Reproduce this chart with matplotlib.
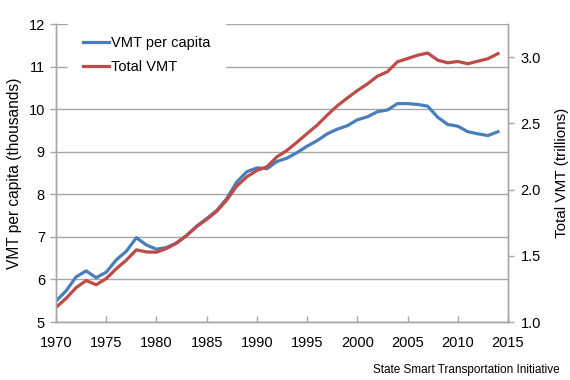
import matplotlib
matplotlib.use("Agg")
import matplotlib.pyplot as plt

plt.rcParams['font.family'] = ['Liberation Sans', 'DejaVu Sans']

years = list(range(1970, 2015))
vmt_per_capita = [5.49, 5.73, 6.06, 6.20, 6.04, 6.17, 6.46, 6.66, 6.98, 6.81,
                  6.71, 6.75, 6.86, 7.03, 7.25, 7.43, 7.62, 7.90, 8.29, 8.53,
                  8.62, 8.60, 8.77, 8.85, 8.98, 9.13, 9.26, 9.42, 9.53, 9.61,
                  9.75, 9.82, 9.94, 9.98, 10.13, 10.13, 10.11, 10.07, 9.81, 9.64,
                  9.60, 9.47, 9.42, 9.38, 9.47]
total_vmt = [1.110, 1.178, 1.259, 1.313, 1.281, 1.328, 1.402, 1.467, 1.545, 1.529,
             1.527, 1.555, 1.595, 1.653, 1.720, 1.775, 1.835, 1.921, 2.026, 2.096,
             2.144, 2.172, 2.247, 2.296, 2.358, 2.423, 2.486, 2.562, 2.632, 2.691,
             2.747, 2.797, 2.856, 2.890, 2.965, 2.989, 3.014, 3.031, 2.977, 2.957,
             2.967, 2.950, 2.969, 2.988, 3.026]

left_ticks = [5, 6, 7, 8, 9, 10, 11, 12]
right_ticks = [1.0, 1.5, 2.0, 2.5, 3.0]
x_ticks = [1970, 1975, 1980, 1985, 1990, 1995, 2000, 2005, 2010, 2015]

blue = '#4A7EBB'
red = '#BE4B48'
grey = '#A6A6A6'

fig = plt.figure(figsize=(5.7, 3.8), dpi=100)
ax = fig.add_axes([56/570, 58/380, 452/570, 298/380])
ax2 = ax.twinx()

ax.set_xlim(1970, 2015)
ax.set_ylim(5, 12)
ax2.set_ylim(1.0, 3.25)

ax.set_yticks(left_ticks)
ax.set_yticklabels([str(t) for t in left_ticks])
ax2.set_yticks(right_ticks)
ax2.set_yticklabels([f"{t:.1f}" for t in right_ticks])
ax.set_xticks(x_ticks)
ax.set_xticklabels([str(t) for t in x_ticks])

ax.grid(axis='y', color=grey, linewidth=1.0)
ax.set_axisbelow(True)

for a in (ax, ax2):
    for s in a.spines.values():
        s.set_color(grey)
        s.set_linewidth(1.0)
    a.spines['top'].set_visible(False)
    a.tick_params(colors=grey, labelcolor='black', labelsize=10.5, width=1.0, length=4)
ax.tick_params(axis='x', direction='in', pad=10)
ax.tick_params(axis='y', pad=4)
ax2.tick_params(axis='y', pad=5)

l1, = ax2.plot(years, vmt_per_capita, color=blue, linewidth=2.3, label='VMT per capita',
               transform=ax.transData)
l2, = ax2.plot(years, total_vmt, color=red, linewidth=2.3, label='Total VMT')

ax.set_ylabel('VMT per capita (thousands)', fontsize=11.2, labelpad=5)
ax2.set_ylabel('Total VMT (trillions)', fontsize=11, labelpad=10)

leg = ax2.legend(handles=[l1, l2], loc='upper left', bbox_to_anchor=(0.0265, 1.0087),
                 frameon=True, fontsize=10.5, handlelength=1.82, handletextpad=0.16,
                 borderaxespad=0.0, borderpad=1.0, labelspacing=0.7)
leg.get_frame().set_edgecolor('white')
leg.get_frame().set_facecolor('white')
leg.get_frame().set_alpha(1.0)
leg.get_frame().set_boxstyle('square', pad=0.0)

fig.text(560/570, 1 - 370/380, 'State Smart Transportation Initiative',
         ha='right', va='center', fontsize=8.5)

fig.savefig('out.png', dpi=100)
